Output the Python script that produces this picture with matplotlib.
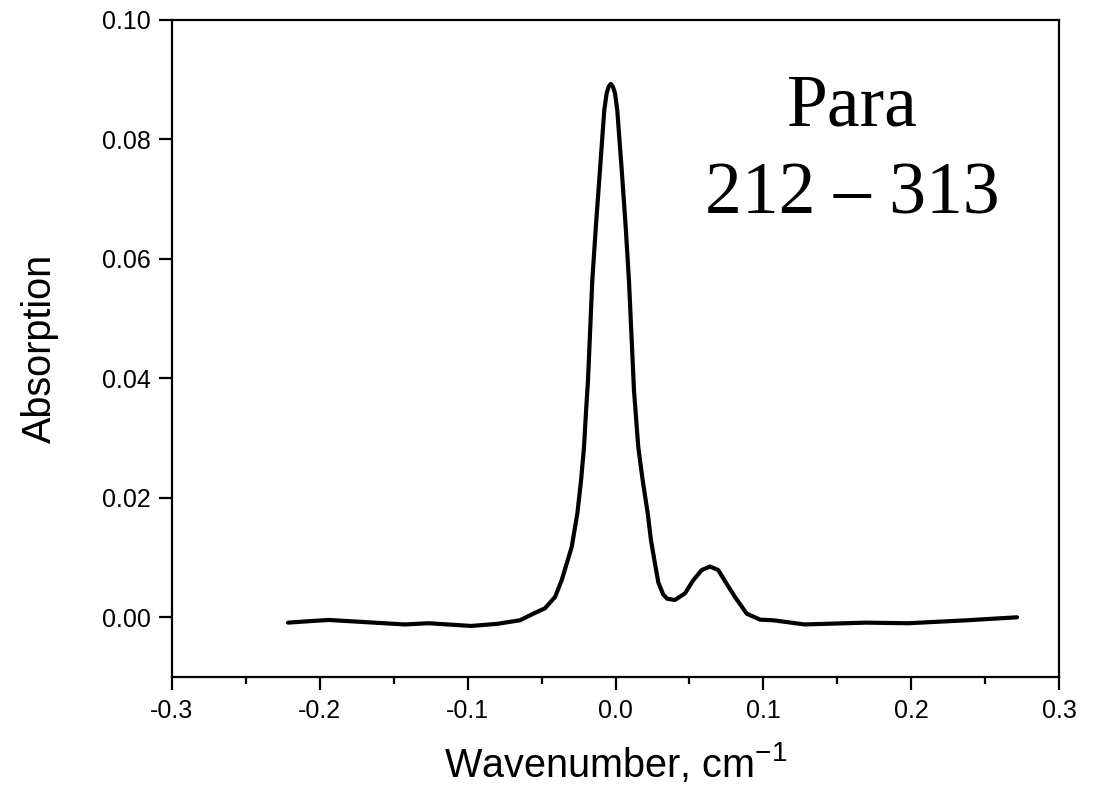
import matplotlib
matplotlib.use("Agg")
import matplotlib.pyplot as plt

# Spectrum (wavenumber in cm^-1, absorption)
wavenumber = [-0.2215, -0.210, -0.194, -0.170, -0.1427, -0.1263, -0.0977, -0.0800,
              -0.0646, -0.0556, -0.0477, -0.0409, -0.0364, -0.0330, -0.0296,
              -0.0258, -0.0233, -0.0213, -0.0200, -0.0186, -0.0157, -0.0132,
              -0.0105, -0.0076, -0.0060, -0.0047, -0.0032, -0.0017, -0.0003,
              0.0012, 0.0042, 0.0068, 0.0091, 0.0125, 0.0154, 0.0184, 0.0218,
              0.0240, 0.0267, 0.0290, 0.0323, 0.0350, 0.0402, 0.0470, 0.0526,
              0.0583, 0.0639, 0.0695, 0.0752, 0.0808, 0.0888, 0.0978, 0.1065,
              0.128, 0.169, 0.198, 0.238, 0.2716]
absorption = [-0.0009, -0.0007, -0.00045, -0.0008, -0.0012, -0.0010, -0.00145, -0.0011,
              -0.0005, 0.0006, 0.0015, 0.0034, 0.0062, 0.0090, 0.0118,
              0.0174, 0.0229, 0.0285, 0.0342, 0.0397, 0.0564, 0.0657,
              0.0749, 0.0849, 0.0877, 0.0888, 0.0893, 0.0888, 0.0877,
              0.0849, 0.0749, 0.0657, 0.0564, 0.0380, 0.0285, 0.0229, 0.0174,
              0.0129, 0.0090, 0.0058, 0.0038, 0.0031, 0.0029, 0.0040, 0.0062,
              0.0079, 0.0085, 0.0079, 0.0056, 0.0034, 0.0006, -0.0004, -0.0005,
              -0.0012, -0.0009, -0.0010, -0.0005, 0.0000]

x_ticks = [-0.3, -0.2, -0.1, 0.0, 0.1, 0.2, 0.3]
x_minor = [-0.25, -0.15, -0.05, 0.05, 0.15, 0.25]
y_ticks = [0.00, 0.02, 0.04, 0.06, 0.08, 0.10]

plt.rcParams['mathtext.default'] = 'regular'
fig = plt.figure(figsize=(10.99, 7.93), dpi=100)
ax = fig.add_axes([172/1099, 1 - 677/793, (1059-172)/1099, (677-20)/793])

ax.plot(wavenumber, absorption, color='black', lw=3.0,
        solid_joinstyle='round', solid_capstyle='round')

ax.set_xlim(-0.3, 0.3)
ax.set_ylim(-0.01, 0.10)
ax.set_xticks(x_ticks)
ax.set_xticklabels([f"{v:.1f}" for v in x_ticks])
ax.set_xticks(x_minor, minor=True)
ax.set_yticks(y_ticks)
ax.set_yticklabels([f"{v:.2f}" for v in y_ticks])

for s in ax.spines.values():
    s.set_linewidth(1.6)
ax.tick_params(axis='both', which='major', direction='out', length=9.5, width=1.6,
               labelsize=18, pad=6)
ax.tick_params(axis='x', which='minor', direction='out', length=5, width=1.6)
for lab in ax.get_xticklabels() + ax.get_yticklabels():
    lab.set_family('Liberation Sans')

ax.set_xlabel('Wavenumber, cm$^{-1}$', family='Liberation Sans', fontsize=28.5, labelpad=13)
ax.set_ylabel('Absorption', family='Liberation Sans', fontsize=28.5, labelpad=31)

ax.text(0.7666, 0.840, 'Para', transform=ax.transAxes, ha='center', va='baseline',
        family='Liberation Serif', fontsize=53)
ax.text(0.7666, 0.706, '212 \u2013 313', transform=ax.transAxes, ha='center', va='baseline',
        family='Liberation Serif', fontsize=53)

fig.savefig('out.png', dpi=100)
